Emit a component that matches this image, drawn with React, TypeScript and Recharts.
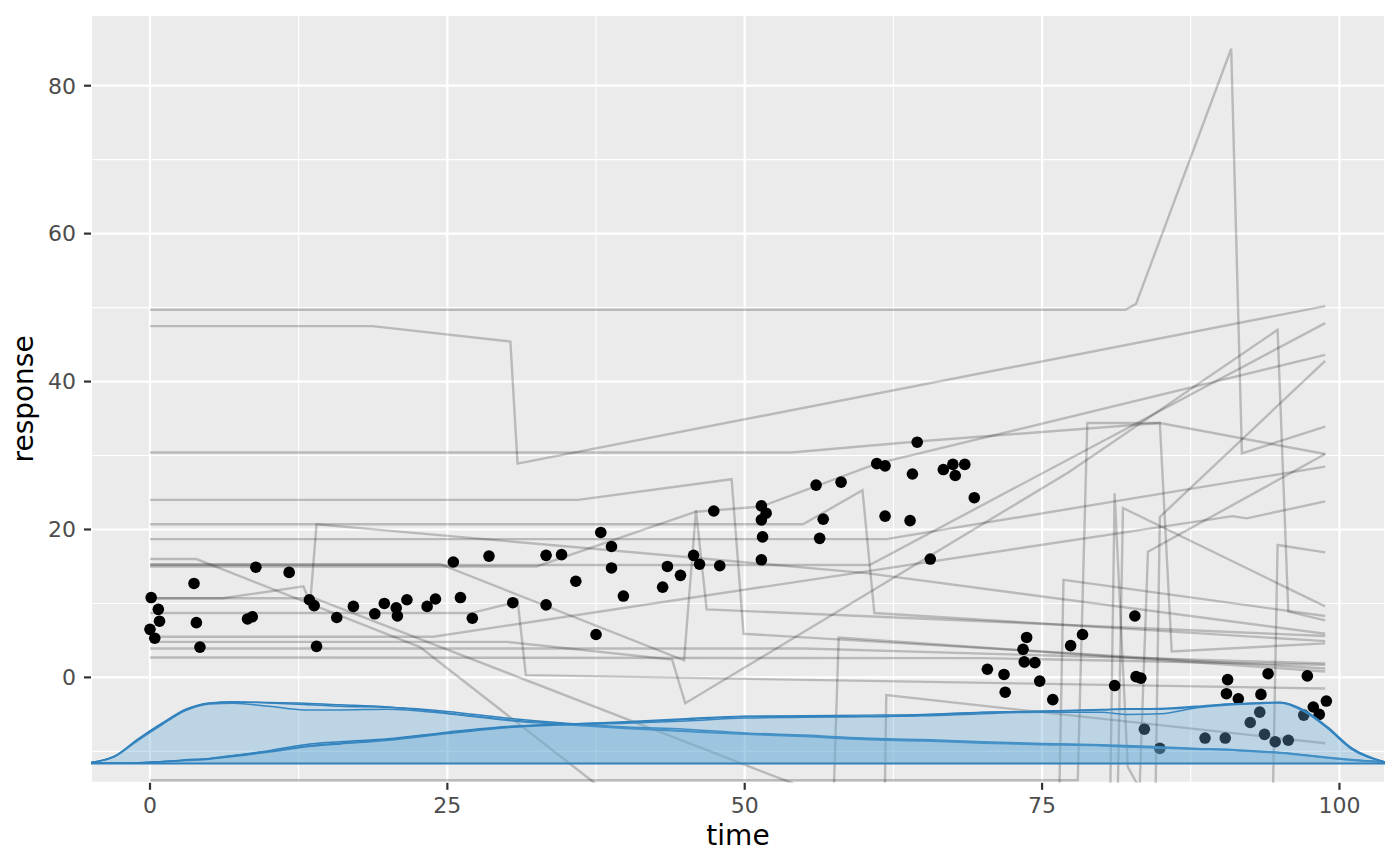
import {
  ComposedChart,
  Line,
  Area,
  Scatter,
  XAxis,
  YAxis,
  CartesianGrid,
  ReferenceLine,
} from 'recharts';

type Pt = [number, number];

// axes
const X_DOMAIN = [-4.96, 103.83];
const Y_DOMAIN = [-14.25, 89.56];
const X_TICKS = [0, 25, 50, 75, 100];
const X_MINOR = [12.5, 37.5, 62.5, 87.5];
const Y_TICKS = [0, 20, 40, 60, 80];
const Y_MINOR = [-10, 10, 30, 50, 70];

// one trajectory per subject (time, response)
const SUBJ_01: Pt[] = [[0, 49.7], [82.0, 49.7], [82.9, 50.5], [90.9, 85.0], [91.8, 30.3], [98.8, 33.9]];
const SUBJ_02: Pt[] = [[0, 47.5], [18.7, 47.5], [30.3, 45.4], [30.9, 28.9], [98.8, 50.2]];
const SUBJ_03: Pt[] = [[0, 30.4], [53.9, 30.4], [64.5, 31.9], [84.9, 34.4], [98.8, 30.2]];
const SUBJ_04: Pt[] = [[0, 24.0], [36.0, 24.0], [48.9, 26.8], [49.9, 5.9], [98.8, 1.2]];
const SUBJ_05: Pt[] = [[0, 20.7], [54.9, 20.7], [59.9, 25.3], [60.9, 8.7], [98.8, 4.9]];
const SUBJ_06: Pt[] = [[0, 18.7], [61.9, 18.7], [98.8, 28.5]];
const SUBJ_07: Pt[] = [[0, 5.5], [23.8, 5.5], [91.0, 21.8], [92.2, 21.5], [98.8, 23.8]];
const SUBJ_08: Pt[] = [[0, 15.2], [60.5, 15.2], [98.8, 47.9]];
const SUBJ_09: Pt[] = [[0, 15.0], [32.5, 15.0], [45.9, 22.4], [51.4, 23.1], [61.1, 28.9], [98.8, 43.6]];
const SUBJ_10: Pt[] = [[0, 8.7], [27.0, 8.7], [30.5, 10.1], [30.9, 10.5], [31.6, 0.3], [98.8, -1.5]];
const SUBJ_11: Pt[] = [[0, 10.7], [6.1, 10.7], [12.9, 12.3], [13.2, 11.1], [54.0, -14.3], [66.0, -28], [81.2, -30], [81.8, 22.9], [98.8, 9.6]];
const SUBJ_12: Pt[] = [[0, 15.3], [24.4, 15.3], [44.9, 2.3], [45.9, 22.6], [46.8, 9.2], [98.8, 5.6]];
const SUBJ_13: Pt[] = [[0, 4.8], [30.0, 4.8], [43.9, 2.4], [45.0, -3.5], [77.3, 27.8], [94.8, 47.0], [95.7, 8.9], [98.8, 7.7]];
const SUBJ_14: Pt[] = [[0, 3.9], [55.0, 3.9], [98.8, 1.9]];
const SUBJ_15: Pt[] = [[0, 2.7], [70.0, 2.6], [98.8, 1.7]];
const SUBJ_16: Pt[] = [[0, -13.9], [78.0, -13.9], [78.8, 34.4], [84.9, 34.4], [85.9, 3.5], [98.8, 4.6]];
const SUBJ_17: Pt[] = [[0, 16.0], [3.9, 16.0], [22.7, 4.1], [37.4, -14.3], [48.0, -30], [57.1, -35], [57.9, 5.4], [98.8, 0.8]];
const SUBJ_18: Pt[] = [[0, -25], [61.6, -35], [61.9, -2.4], [98.8, -8.9]];
const SUBJ_19: Pt[] = [[0, -22], [76.3, -28], [76.8, 13.2], [98.8, 8.3]];
const SUBJ_20: Pt[] = [[0, -24], [80.6, -30], [81.1, 24.9], [82.2, -12.1], [83.2, -15], [83.9, 17.0], [98.8, 30.2]];
const SUBJ_21: Pt[] = [[0, -26], [84.4, -30], [84.9, 21.7], [98.8, 42.8]];
const SUBJ_22: Pt[] = [[0, -20], [94.3, -25], [94.8, 17.9], [98.8, 16.9]];
const SUBJ_23: Pt[] = [[0, 10.7], [13.5, 10.7], [14.0, 20.7], [38.7, 17.2], [60.2, 14.1], [98.8, 5.9]];

const SUBJECTS = [
  SUBJ_01, SUBJ_02, SUBJ_03, SUBJ_04, SUBJ_05, SUBJ_06, SUBJ_07, SUBJ_08,
  SUBJ_09, SUBJ_10, SUBJ_11, SUBJ_12, SUBJ_13, SUBJ_14, SUBJ_15, SUBJ_16,
  SUBJ_17, SUBJ_18, SUBJ_19, SUBJ_20, SUBJ_21, SUBJ_22, SUBJ_23,
];

// observed points
const OBSERVED: Pt[] = [
  [0.1, 10.8], [0.7, 9.2], [0.8, 7.6], [0.0, 6.5], [0.4, 5.3],
  [3.7, 12.7], [3.9, 7.4], [4.2, 4.1],
  [8.2, 7.9], [8.6, 8.2], [8.9, 14.9],
  [11.7, 14.2], [13.4, 10.5], [13.8, 9.7], [14.0, 4.2],
  [15.7, 8.1], [17.1, 9.6], [18.9, 8.6], [19.7, 10.0], [20.7, 9.4], [20.8, 8.3], [21.6, 10.5],
  [23.3, 9.6], [24.0, 10.6], [25.5, 15.6], [26.1, 10.8], [27.1, 8.0], [28.5, 16.4],
  [30.5, 10.1], [33.3, 16.5], [33.3, 9.8], [34.6, 16.6], [35.8, 13.0],
  [37.5, 5.8], [37.9, 19.6], [38.8, 17.7], [38.8, 14.8], [39.8, 11.0],
  [43.1, 12.2], [43.5, 15.0], [44.6, 13.8], [45.7, 16.5], [46.2, 15.3], [47.4, 22.5], [47.9, 15.1],
  [51.4, 23.2], [51.8, 22.2], [51.4, 21.3], [51.5, 19.0], [51.4, 15.9],
  [56.0, 26.0], [56.3, 18.8], [56.6, 21.4], [58.1, 26.4],
  [61.1, 28.9], [61.8, 28.6], [61.8, 21.8], [63.9, 21.2], [64.1, 27.5], [64.5, 31.8], [65.6, 16.0],
  [66.7, 28.1], [67.5, 28.8], [67.7, 27.3], [68.5, 28.8], [69.3, 24.3],
  [70.4, 1.1], [71.8, 0.4], [71.9, -2.0], [73.4, 3.8], [73.5, 2.1], [73.7, 5.4], [74.4, 2.0], [74.8, -0.5], [75.9, -3.0],
  [77.4, 4.3], [78.4, 5.8], [81.1, -1.1], [82.8, 8.3], [82.9, 0.1], [83.3, -0.1], [83.6, -7.0], [84.9, -9.6],
  [88.7, -8.2], [90.4, -8.2], [90.5, -2.2], [90.6, -0.3], [91.5, -2.9], [92.5, -6.1], [93.3, -4.7],
  [93.4, -2.3], [93.7, -7.7], [94.0, 0.5], [94.6, -8.7], [95.7, -8.5],
  [97.0, -5.1], [97.3, 0.2], [97.8, -4.0], [98.3, -5.0], [98.9, -3.2],
];

// time densities drawn along the bottom
const DENS_BASE = -11.65;
const DENS_X = [-4.96, -3, -1, 1, 3, 5, 7, 10, 13, 16, 20, 25, 30, 35, 40, 45, 50, 55, 60, 65, 70, 75, 80, 82, 85, 88, 91, 93, 95, 97, 99, 101, 103.83];
const DENS_EARLY_A = [-11.5, -10.7, -8.4, -6.3, -4.4, -3.5, -3.35, -3.4, -3.5, -3.7, -4.0, -4.8, -5.7, -6.3, -6.8, -7.2, -7.6, -7.9, -8.3, -8.5, -8.8, -9.0, -9.2, -9.3, -9.5, -9.65, -9.8, -10.0, -10.2, -10.5, -10.85, -11.15, -11.45];
const DENS_EARLY_B = [-11.5, -10.75, -8.5, -6.4, -4.5, -3.6, -3.5, -3.9, -4.4, -4.4, -4.3, -4.9, -5.8, -6.4, -6.9, -7.3, -7.7, -8.0, -8.4, -8.6, -8.9, -9.1, -9.25, -9.4, -9.55, -9.7, -9.85, -10.05, -10.25, -10.55, -10.9, -11.2, -11.47];
const DENS_EARLY_C = [-11.5, -10.65, -8.3, -6.2, -4.3, -3.45, -3.3, -3.45, -3.65, -3.9, -4.05, -4.6, -5.5, -6.2, -6.7, -7.0, -7.5, -7.8, -8.2, -8.4, -8.7, -8.95, -9.1, -9.2, -9.4, -9.6, -9.75, -9.95, -10.15, -10.45, -10.8, -11.1, -11.45];
const DENS_LATE_A = [-11.62, -11.6, -11.55, -11.4, -11.2, -11.0, -10.6, -10.0, -9.3, -8.9, -8.4, -7.5, -6.7, -6.3, -6.1, -5.7, -5.3, -5.2, -5.1, -5.0, -4.7, -4.6, -4.4, -4.3, -4.3, -4.0, -3.6, -3.5, -3.4, -4.5, -6.8, -9.6, -11.45];
const DENS_LATE_B = [-11.62, -11.6, -11.55, -11.42, -11.25, -11.05, -10.7, -10.1, -9.4, -9.0, -8.5, -7.6, -6.8, -6.4, -6.2, -5.9, -5.5, -5.4, -5.3, -5.2, -4.9, -4.7, -4.7, -5.0, -4.9, -4.1, -3.7, -3.55, -3.45, -4.6, -6.9, -9.7, -11.45];
const DENS_LATE_C = [-11.62, -11.6, -11.55, -11.38, -11.15, -10.95, -10.55, -9.9, -9.1, -8.7, -8.3, -7.4, -6.65, -6.35, -6.0, -5.6, -5.25, -5.25, -5.3, -5.1, -4.75, -4.55, -4.35, -4.25, -4.2, -3.9, -3.55, -3.45, -3.35, -4.4, -6.7, -9.5, -11.45];

const DENS_KEYS = ['ea', 'eb', 'ec', 'la', 'lb', 'lc'];

const densityRows = DENS_X.map((x, i) => ({
  x,
  ea: DENS_EARLY_A[i],
  eb: DENS_EARLY_B[i],
  ec: DENS_EARLY_C[i],
  la: DENS_LATE_A[i],
  lb: DENS_LATE_B[i],
  lc: DENS_LATE_C[i],
}));

const toRows = (pts: Pt[]) => pts.map(([x, y]) => ({ x, y }));

const tickStyle = { fontSize: 22, fill: '#4D4D4D', fontFamily: '"DejaVu Sans", sans-serif' };
const tickLine = { stroke: '#333333', strokeWidth: 2.2 };

const Dot = (props: any) => <circle cx={props.cx} cy={props.cy} r={5.8} fill="#000000" />;

export default function App() {
  return (
    <div style={{ position: 'absolute', left: 0, top: 0, width: 1400, height: 866, background: '#ffffff' }}>
      <ComposedChart
        width={1400}
        height={866}
        data={densityRows}
        margin={{ top: 15, right: 15, bottom: 0, left: 0 }}
        style={{ fontFamily: '"DejaVu Sans", sans-serif' }}
      >
        <CartesianGrid fill="#EBEBEB" stroke="#FFFFFF" strokeWidth={2.2} />
        <CartesianGrid
          fill="none"
          stroke="#FFFFFF"
          strokeWidth={1.1}
          horizontalValues={Y_MINOR}
          verticalValues={X_MINOR}
        />
        <XAxis
          type="number"
          dataKey="x"
          domain={X_DOMAIN}
          ticks={X_TICKS}
          allowDataOverflow
          height={83.2}
          axisLine={false}
          tickLine={tickLine}
          tickSize={7}
          tickMargin={8}
          tick={tickStyle}
          label={{ value: 'time', position: 'insideBottom', offset: 21, fill: '#000000', fontSize: 28 }}
        />
        <YAxis
          type="number"
          domain={Y_DOMAIN}
          ticks={Y_TICKS}
          allowDataOverflow
          width={91}
          axisLine={false}
          tickLine={tickLine}
          tickSize={7}
          tickMargin={8}
          tick={tickStyle}
          label={{
            value: 'response',
            angle: -90,
            position: 'insideLeft',
            offset: 23,
            fill: '#000000',
            fontSize: 28,
            style: { textAnchor: 'middle' },
          }}
        />
        {SUBJECTS.map((s, i) => (
          <Line
            key={'s' + i}
            data={toRows(s)}
            dataKey="y"
            type="linear"
            stroke="#000000"
            strokeOpacity={0.21}
            strokeWidth={2.4}
            dot={false}
            activeDot={false}
            isAnimationActive={false}
          />
        ))}
        <Scatter data={toRows(OBSERVED)} dataKey="y" shape={Dot} isAnimationActive={false} />
        {DENS_KEYS.map((k) => (
          <Area
            key={k}
            dataKey={k}
            type="monotone"
            baseValue={DENS_BASE}
            fill="#6BAED6"
            fillOpacity={0.134}
            stroke="#3182BD"
            strokeWidth={1.5}
            isAnimationActive={false}
            zIndex={650}
          />
        ))}
        <ReferenceLine y={DENS_BASE} stroke="#3182BD" strokeWidth={2} zIndex={660} />
      </ComposedChart>
    </div>
  );
}
